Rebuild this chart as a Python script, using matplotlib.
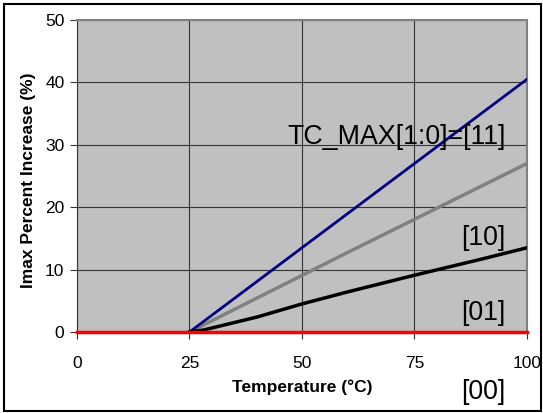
import matplotlib.pyplot as plt
from matplotlib.patches import Rectangle

plt.rcParams["font.family"] = ["Liberation Sans", "DejaVu Sans"]

temps_11 = [25, 100]
imax_11 = [0, 40.5]
temps_10 = [25, 60, 100]
imax_10 = [0, 12.7, 27.0]
temps_01 = [25, 28, 40, 50, 60, 75, 90, 100]
imax_01 = [0, 0.3, 2.4, 4.5, 6.4, 9.1, 11.7, 13.5]
temps_00 = [0, 100]
imax_00 = [0, 0]

x_ticks = [0, 25, 50, 75, 100]
y_ticks = [0, 10, 20, 30, 40, 50]

fig = plt.figure(figsize=(5.43, 4.13), dpi=100, facecolor="white")
ax = fig.add_axes([0.1418, 0.1961, 0.8287, 0.7555])
ax.set_facecolor("#c0c0c0")

ax.plot(temps_00, imax_00, color="#ff0000", lw=2.5, zorder=5, clip_on=False)
ax.plot(temps_01, imax_01, color="#000000", lw=2.5, zorder=4)
ax.plot(temps_10, imax_10, color="#808080", lw=2.5, zorder=3)
ax.plot(temps_11, imax_11, color="#000080", lw=2.0, zorder=3)

ax.set_xlim(0, 100)
ax.set_ylim(0, 50)
ax.set_xticks(x_ticks)
ax.set_yticks(y_ticks)
ax.tick_params(axis="both", direction="out", length=5, width=0.8,
               color="#333333", labelsize=12.5)
ax.tick_params(axis="x", pad=12)
ax.tick_params(axis="y", pad=4)
ax.grid(True, color="#333333", lw=0.8, zorder=1)
ax.set_axisbelow(True)

for side in ["left", "bottom"]:
    ax.spines[side].set_color("#333333")
    ax.spines[side].set_linewidth(0.8)
for side in ["top", "right"]:
    ax.spines[side].set_color("#808080")
    ax.spines[side].set_linewidth(1.5)

ax.set_xlabel("Temperature (°C)", fontsize=12.5, fontweight="bold", labelpad=6)
ax.set_ylabel("Imax Percent Increase (%)", fontsize=12.5, fontweight="bold")
ax.yaxis.set_label_coords(-0.09, 0.487)

ax.text(95.3, 31.2, "TC_MAX[1:0]=[11]", fontsize=19.3, ha="right", va="center")
ax.text(95.3, 15.1, "[10]", fontsize=19.3, ha="right", va="center")
ax.text(95.3, 3.0, "[01]", fontsize=19.3, ha="right", va="center")
ax.text(95.3, -9.6, "[00]", fontsize=19.3, ha="right", va="center",
        clip_on=False)

fig.patches.append(Rectangle((0.008, 0.006), 0.988, 0.984,
                             transform=fig.transFigure, fill=False,
                             edgecolor="black", lw=1.5))

fig.savefig("out.png", dpi=100)
